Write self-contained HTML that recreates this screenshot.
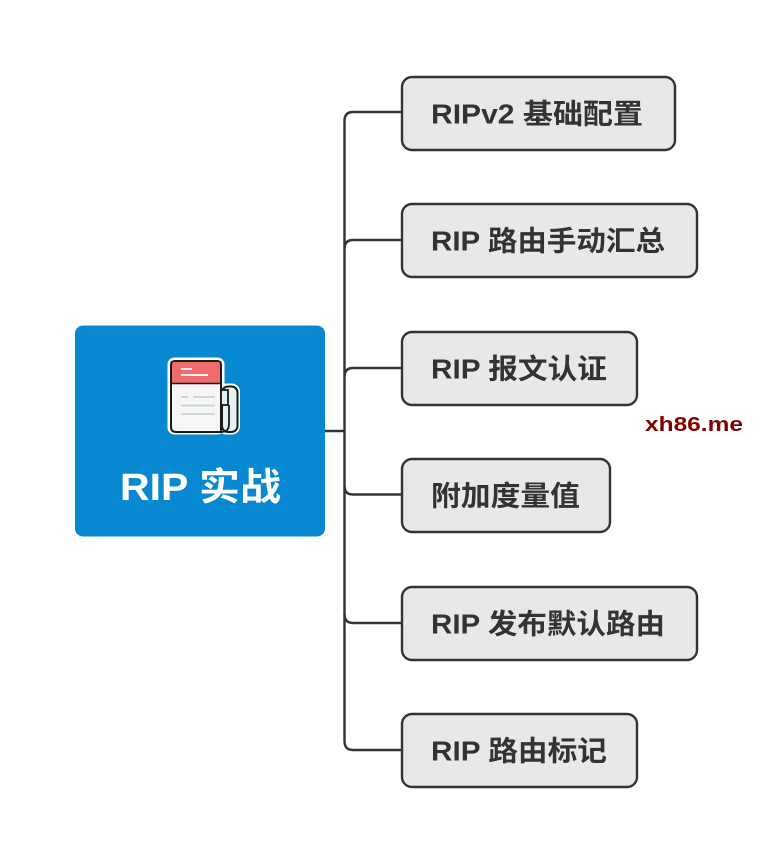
<!DOCTYPE html>
<html>
<head>
<meta charset="utf-8">
<style>
  html,body{margin:0;padding:0;background:#fff;}
  body{width:772px;height:862px;overflow:hidden;position:relative;}
  svg{position:absolute;left:0;top:0;}
  .t{font-family:"Liberation Sans","Noto Sans CJK SC",sans-serif;font-weight:bold;font-size:28px;fill:#333;}
</style>
</head>
<body>
<svg width="772" height="862" viewBox="0 0 772 862" xmlns="http://www.w3.org/2000/svg">
  <!-- connectors -->
  <g fill="none" stroke="#333" stroke-width="2.4">
    <line x1="325" y1="431" x2="344.5" y2="431"/>
    <path d="M401 112 H353 Q344.5 112 344.5 121 V741 Q344.5 750 353 750 H401"/>
    <path d="M401 240 H353 Q344.5 240 344.5 249"/>
    <path d="M401 368 H353 Q344.5 368 344.5 377"/>
    <path d="M401 494.5 H353 Q344.5 494.5 344.5 486"/>
    <path d="M401 623 H353 Q344.5 623 344.5 614"/>
  </g>

  <!-- root -->
  <rect x="75" y="325.5" width="250" height="211" rx="8" ry="8" fill="#0788d0"/>

  <!-- icon -->
  <g>
    <!-- white outline -->
    <rect x="167.5" y="357.5" width="57" height="77" rx="7" fill="#fff"/>
    <rect x="218" y="383.5" width="22" height="51" rx="8" fill="#fff"/>
    <!-- scroll tube -->
    <rect x="222" y="386.5" width="15.5" height="45.5" rx="6" fill="#e6f2f2" stroke="#1a1a1a" stroke-width="2"/>
    <!-- page -->
    <path d="M171 383 V365 Q171 361 175 361 H217 Q221 361 221 365 V432 H176 Q171 432 171 427 Z" fill="#f6f6f6" stroke="#1a1a1a" stroke-width="2"/>
    <path d="M172 383 V365 Q172 362 175 362 H217 Q220 362 220 365 V383 Z" fill="#ef6c6c"/>
    <line x1="171" y1="383.5" x2="221" y2="383.5" stroke="#1a1a1a" stroke-width="1.6"/>
    <line x1="181" y1="369" x2="192" y2="369" stroke="#fff" stroke-width="1.7"/>
    <line x1="181" y1="375" x2="208" y2="375" stroke="#fff" stroke-width="1.7"/>
    <line x1="181" y1="397" x2="188" y2="397" stroke="#c5d3d6" stroke-width="1.8"/>
    <line x1="193" y1="397" x2="215" y2="397" stroke="#c5d3d6" stroke-width="1.8"/>
    <line x1="181" y1="405.5" x2="215" y2="405.5" stroke="#c5d3d6" stroke-width="1.8"/>
    <line x1="181" y1="414" x2="215" y2="414" stroke="#c5d3d6" stroke-width="1.8"/>
    <!-- flap -->
    <rect x="221" y="390" width="7" height="15" fill="#e6f2f2" stroke="#1a1a1a" stroke-width="1.8"/>
    <path d="M221 432 Q229 432 229 424 V405" fill="none" stroke="#1a1a1a" stroke-width="1.8"/>
  </g>
  <text x="120" y="488" dominant-baseline="central" font-family="'Liberation Sans','Noto Sans CJK SC',sans-serif" font-weight="bold" font-size="38" fill="#fff" textLength="161" lengthAdjust="spacingAndGlyphs">RIP 实战</text>

  <!-- child boxes -->
  <g fill="#e8e8e8" stroke="#333" stroke-width="2.4">
    <rect x="402" y="77" width="273" height="73" rx="10"/>
    <rect x="402" y="204" width="295" height="73" rx="10"/>
    <rect x="402" y="332" width="235" height="73" rx="10"/>
    <rect x="402" y="459" width="208" height="73" rx="10"/>
    <rect x="402" y="587" width="295" height="73" rx="10"/>
    <rect x="402" y="714" width="235" height="73" rx="10"/>
  </g>
  <text class="t" x="431" y="114" dominant-baseline="central" textLength="212" lengthAdjust="spacingAndGlyphs">RIPv2 基础配置</text>
  <text class="t" x="431" y="241" dominant-baseline="central" textLength="234" lengthAdjust="spacingAndGlyphs">RIP 路由手动汇总</text>
  <text class="t" x="431" y="369" dominant-baseline="central" textLength="176" lengthAdjust="spacingAndGlyphs">RIP 报文认证</text>
  <text class="t" x="431" y="496" dominant-baseline="central" textLength="149" lengthAdjust="spacingAndGlyphs">附加度量值</text>
  <text class="t" x="431" y="624" dominant-baseline="central" textLength="234" lengthAdjust="spacingAndGlyphs">RIP 发布默认路由</text>
  <text class="t" x="431" y="751" dominant-baseline="central" textLength="176" lengthAdjust="spacingAndGlyphs">RIP 路由标记</text>

  <!-- watermark -->
  <text x="645" y="431" font-family="'Liberation Sans',sans-serif" font-weight="bold" font-size="20" fill="#800000" textLength="98" lengthAdjust="spacingAndGlyphs">xh86.me</text>
</svg>
</body>
</html>
